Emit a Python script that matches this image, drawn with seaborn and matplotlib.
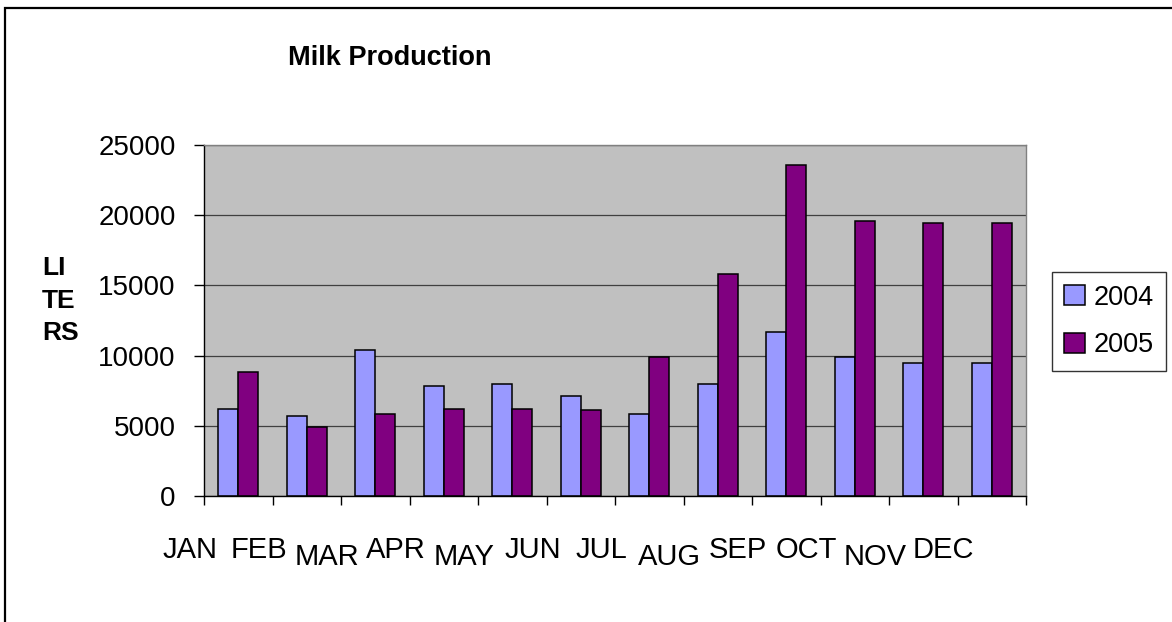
import matplotlib
matplotlib.use("Agg")
import matplotlib.pyplot as plt
from matplotlib.patches import Rectangle
from matplotlib.transforms import ScaledTranslation
import seaborn as sns
import pandas as pd

# Monthly milk production (liters)
months = ["JAN", "FEB", "MAR", "APR", "MAY", "JUN",
          "JUL", "AUG", "SEP", "OCT", "NOV", "DEC"]
liters_2004 = [6200, 5700, 10400, 7850, 8000, 7150,
               5850, 8000, 11650, 9900, 9500, 9500]
liters_2005 = [8800, 4950, 5850, 6200, 6200, 6100,
               9900, 15800, 23600, 19600, 19450, 19450]
years = ["2004", "2005"]
year_colors = {"2004": "#9999FF", "2005": "#800080"}
y_ticks = [0, 5000, 10000, 15000, 20000, 25000]

df = pd.DataFrame({
    "month": months * 2,
    "liters": liters_2004 + liters_2005,
    "year": [years[0]] * len(months) + [years[1]] * len(months),
})

sns.set_theme(style="white")
plt.rcParams["font.family"] = ["Liberation Sans", "DejaVu Sans"]
plt.rcParams.update({"text.color": "black", "axes.labelcolor": "black",
                     "xtick.color": "black", "ytick.color": "black"})

W, H = 1172, 622
fig = plt.figure(figsize=(W / 100, H / 100), dpi=100)
ax = fig.add_axes([204 / W, 1 - 496 / H, (1026 - 204) / W, (496 - 145) / H])
ax.set_facecolor("#C0C0C0")

sns.barplot(data=df, x="month", y="liters", hue="year", order=months,
            hue_order=years, palette=year_colors, saturation=1,
            width=0.584, edgecolor="black", linewidth=1.1, ax=ax)

ax.set_xlim(-0.5, len(months) - 0.5)
ax.set_ylim(y_ticks[0], y_ticks[-1])
ax.set_yticks(y_ticks)
ax.set_yticklabels([str(t) for t in y_ticks])
ax.yaxis.grid(True, color="#404040", linewidth=0.9)
ax.xaxis.grid(False)
ax.set_axisbelow(True)

# spines: black axes, grey plot-area border
for side in ("left", "bottom"):
    ax.spines[side].set_color("black")
    ax.spines[side].set_linewidth(1.0)
for side in ("top", "right"):
    ax.spines[side].set_color("#808080")
    ax.spines[side].set_linewidth(1.0)

ax.tick_params(axis="y", direction="out", length=7.5, width=1.0,
               color="black", labelcolor="black", labelsize=20, pad=13,
               left=True)
# category-boundary ticks on the x axis, labels drawn separately
ax.set_xticks([i - 0.5 for i in range(len(months) + 1)])
ax.set_xticklabels([])
ax.tick_params(axis="x", direction="out", length=6.5, width=1.0,
               color="black", bottom=True)
ax.set_xlabel("")

# staggered month labels
xtrans = ax.get_xaxis_transform()
for i, m in enumerate(months):
    low = m in ("MAR", "MAY", "AUG", "NOV")
    dy = -69 if low else -62
    off = ScaledTranslation(-48 / 100, dy / 100, fig.dpi_scale_trans)
    ax.text(i, 0, m, transform=xtrans + off, ha="center", va="baseline",
            fontsize=21, color="black")

ax.set_ylabel("LI\nTE\nRS", rotation=0, fontsize=19, fontweight="bold",
              ha="left", va="top", linespacing=1.45, color="black")
ax.yaxis.set_label_coords((42 - 204) / 822, (496 - 256) / 351)

fig.text(390 / W, 1 - 65 / H, "Milk Production", ha="center",
         va="baseline", fontsize=19.5, fontweight="bold", color="black")

handles, labels = ax.get_legend_handles_labels()
if ax.get_legend() is not None:
    ax.get_legend().remove()
leg = ax.legend(handles, labels, loc="center left",
                bbox_to_anchor=((1052 - 204) / 822, (496 - 321.5) / 351),
                fontsize=19.5, frameon=True, fancybox=False, shadow=False,
                handlelength=0.76, handleheight=0.76, handletextpad=0.32,
                labelspacing=0.8, borderpad=0.46, borderaxespad=0)
leg.get_frame().set_edgecolor("black")
leg.get_frame().set_linewidth(1.0)
leg.get_frame().set_facecolor("white")
for t in leg.get_texts():
    t.set_color("black")

# outer chart frame
fig.add_artist(Rectangle((5 / W, -0.1), 1.2, 1 - 8 / H + 0.1,
                         transform=fig.transFigure, fill=False,
                         edgecolor="black", linewidth=1.6, clip_on=False))

fig.savefig("out.png", dpi=100, facecolor="white")
